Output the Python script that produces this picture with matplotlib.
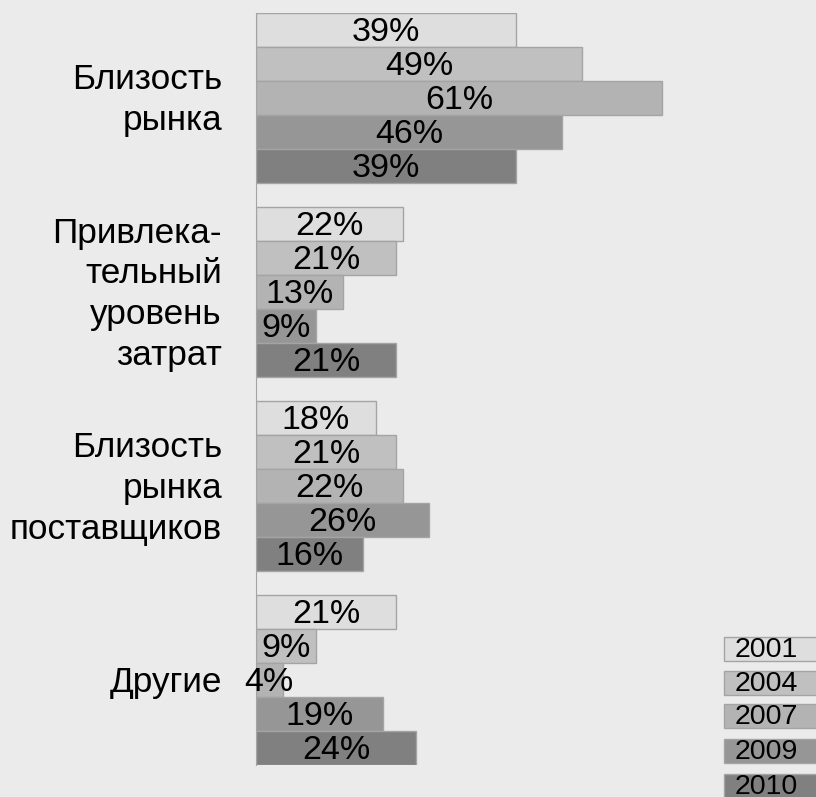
import matplotlib
matplotlib.use('Agg')
import matplotlib.pyplot as plt
from matplotlib.patches import Rectangle

plt.rcParams['font.family'] = ['Liberation Sans', 'DejaVu Sans']

# Shares of respondents by factor and survey year
categories = ['Близость\nрынка',
              'Привлека-\nтельный\nуровень\nзатрат',
              'Близость\nрынка\nпоставщиков',
              'Другие']
years = ['2001', '2004', '2007', '2009', '2010']
v2001 = [39, 22, 18, 21]
v2004 = [49, 21, 21, 9]
v2007 = [61, 13, 22, 4]
v2009 = [46, 9, 26, 19]
v2010 = [39, 21, 16, 24]
series = [v2001, v2004, v2007, v2009, v2010]

colors = ['#dedede', '#c0c0c0', '#b3b3b3', '#969696', '#808080']
bg = '#ebebeb'
edge = '#a4a4a4'

W, H = 816, 797
fig = plt.figure(figsize=(W / 100, H / 100), dpi=100, facecolor=bg)
ax = fig.add_axes([256 / W, 32 / H, 560 / W, 752 / H], facecolor=bg)

bar_h = 0.876 / 5
for i, vals in enumerate(series):
    ys = [g + bar_h * (i + 0.5) for g in range(len(categories))]
    ax.barh(ys, vals, height=bar_h, color=colors[i],
            edgecolor=edge, linewidth=1)
    for y, v in zip(ys, vals):
        ax.text(v / 2, y + 0.012, f'{v}%', ha='center', va='center',
                fontsize=24.5, color='black')

ax.set_xlim(0, 560 / 6.66)
ax.set_ylim(3 + 0.876, 0)

for s in ['top', 'right', 'bottom']:
    ax.spines[s].set_visible(False)
ax.spines['left'].set_color(edge)
ax.set_xticks([])
ax.set_yticks([])

# Category labels, right-aligned next to the axis
label_x = -34 / 6.66
for g, name in enumerate(categories):
    ax.text(label_x, g + 0.876 / 2 + 0.012, name, ha='right', va='center',
            fontsize=25.3, linespacing=1.3, clip_on=False)

# Legend: shaded boxes with the year written inside
tops = [637, 671, 704, 739, 774]
for top, c, yr in zip(tops, colors, years):
    fig.patches.append(Rectangle((724 / W, 1 - (top + 24) / H), 100 / W, 24 / H,
                                 transform=fig.transFigure, facecolor=c,
                                 edgecolor=edge, linewidth=1))
    fig.text(735 / W, 1 - (top + 13) / H, yr, ha='left', va='center',
             fontsize=20.5)

fig.savefig('out.png', dpi=100, facecolor=bg)
